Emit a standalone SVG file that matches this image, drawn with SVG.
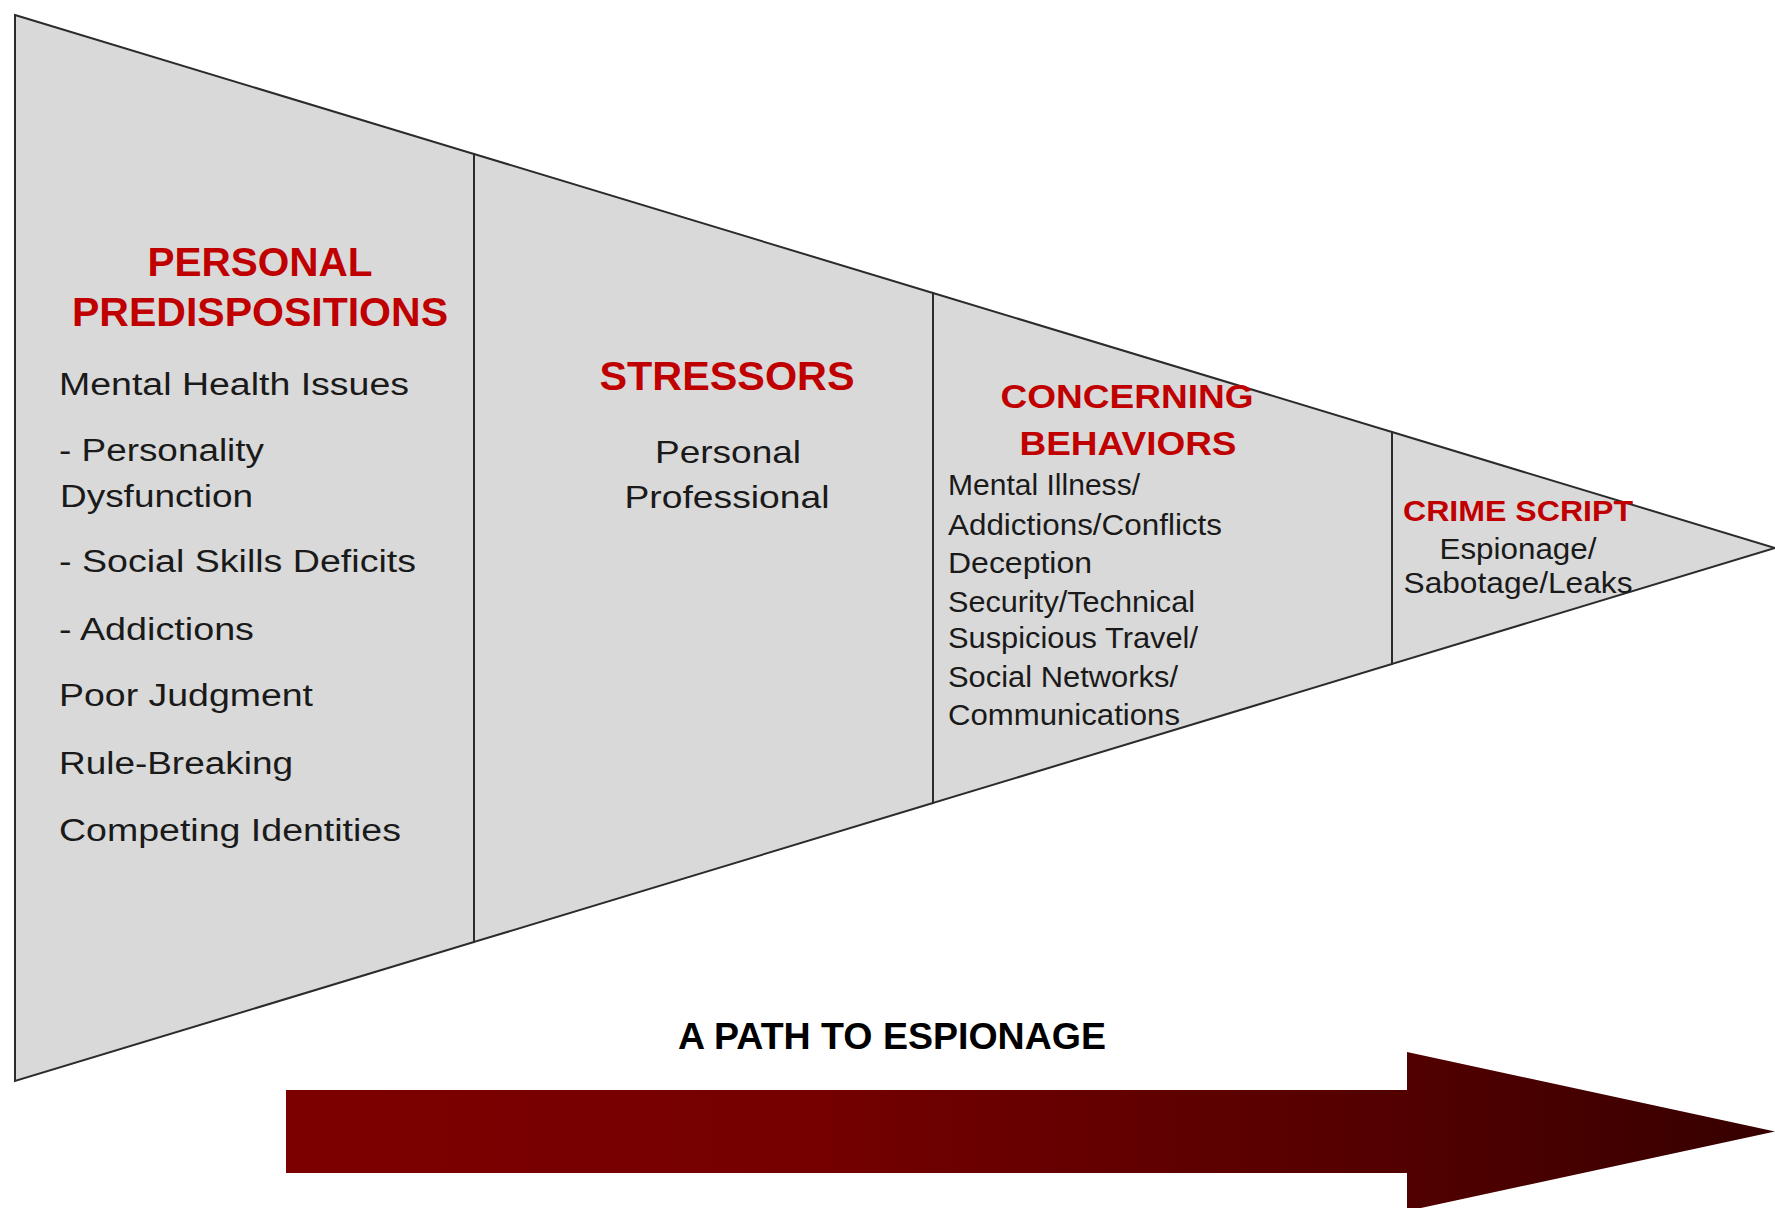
<svg xmlns="http://www.w3.org/2000/svg" width="1775" height="1208" viewBox="0 0 1775 1208">
<style>
.sec{fill:#d9d9d9;stroke:#2b2b2b;stroke-width:2;stroke-linejoin:miter}
.h{font-family:"Liberation Sans",Arial,sans-serif;font-weight:bold;fill:#c00000}
.b{font-family:"Liberation Sans",Arial,sans-serif;fill:#1a1a1a}
.t{font-family:"Liberation Sans",Arial,sans-serif;font-weight:bold;fill:#000}
</style>
<defs>
<linearGradient id="arrowGrad" gradientUnits="userSpaceOnUse" x1="286" y1="0" x2="1775" y2="0">
<stop offset="0" stop-color="#7d0000"/>
<stop offset="0.35" stop-color="#750000"/>
<stop offset="0.75" stop-color="#520000"/>
<stop offset="1" stop-color="#360000"/>
</linearGradient>
</defs>
<rect width="1775" height="1208" fill="#ffffff"/>
<g id="personal-predispositions">
<polygon class="sec" points="15,15 474,154 474,942 15,1081"/>
<text class="h" font-size="40" x="260" y="276" text-anchor="middle" textLength="225" lengthAdjust="spacingAndGlyphs">PERSONAL</text>
<text class="h" font-size="40" x="260" y="326" text-anchor="middle" textLength="376" lengthAdjust="spacingAndGlyphs">PREDISPOSITIONS</text>
<text class="b" font-size="31" x="59" y="395" textLength="350" lengthAdjust="spacingAndGlyphs">Mental Health Issues</text>
<text class="b" font-size="31" x="59" y="461" textLength="205" lengthAdjust="spacingAndGlyphs">- Personality</text>
<text class="b" font-size="31" x="60" y="507" textLength="193" lengthAdjust="spacingAndGlyphs">Dysfunction</text>
<text class="b" font-size="31" x="59" y="572" textLength="357" lengthAdjust="spacingAndGlyphs">- Social Skills Deficits</text>
<text class="b" font-size="31" x="59" y="640" textLength="195" lengthAdjust="spacingAndGlyphs">- Addictions</text>
<text class="b" font-size="31" x="59" y="706" textLength="254" lengthAdjust="spacingAndGlyphs">Poor Judgment</text>
<text class="b" font-size="31" x="59" y="774" textLength="234" lengthAdjust="spacingAndGlyphs">Rule-Breaking</text>
<text class="b" font-size="31" x="59" y="841" textLength="342" lengthAdjust="spacingAndGlyphs">Competing Identities</text>
</g>
<g id="stressors">
<polygon class="sec" points="474,154 933,293 933,803 474,942"/>
<text class="h" font-size="40" x="727" y="390" text-anchor="middle" textLength="255" lengthAdjust="spacingAndGlyphs">STRESSORS</text>
<text class="b" font-size="32" x="728" y="463" text-anchor="middle" textLength="146" lengthAdjust="spacingAndGlyphs">Personal</text>
<text class="b" font-size="32" x="727" y="508" text-anchor="middle" textLength="205" lengthAdjust="spacingAndGlyphs">Professional</text>
</g>
<g id="concerning-behaviors">
<polygon class="sec" points="933,293 1392,432 1392,664 933,803"/>
<text class="h" font-size="34" x="1127" y="408" text-anchor="middle" textLength="253" lengthAdjust="spacingAndGlyphs">CONCERNING</text>
<text class="h" font-size="34" x="1128" y="455" text-anchor="middle" textLength="217" lengthAdjust="spacingAndGlyphs">BEHAVIORS</text>
<text class="b" font-size="30" x="948" y="495" textLength="192" lengthAdjust="spacingAndGlyphs">Mental Illness/</text>
<text class="b" font-size="30" x="948" y="535" textLength="274" lengthAdjust="spacingAndGlyphs">Addictions/Conflicts</text>
<text class="b" font-size="30" x="948" y="573" textLength="144" lengthAdjust="spacingAndGlyphs">Deception</text>
<text class="b" font-size="30" x="948" y="612" textLength="247" lengthAdjust="spacingAndGlyphs">Security/Technical</text>
<text class="b" font-size="30" x="948" y="648" textLength="250" lengthAdjust="spacingAndGlyphs">Suspicious Travel/</text>
<text class="b" font-size="30" x="948" y="687" textLength="230" lengthAdjust="spacingAndGlyphs">Social Networks/</text>
<text class="b" font-size="30" x="948" y="725" textLength="232" lengthAdjust="spacingAndGlyphs">Communications</text>
</g>
<g id="crime-script">
<polygon class="sec" points="1392,432 1775,548 1392,664"/>
<text class="h" font-size="29" x="1518" y="521" text-anchor="middle" textLength="230" lengthAdjust="spacingAndGlyphs">CRIME SCRIPT</text>
<text class="b" font-size="29" x="1518" y="559" text-anchor="middle" textLength="157" lengthAdjust="spacingAndGlyphs">Espionage/</text>
<text class="b" font-size="29" x="1518" y="593" text-anchor="middle" textLength="229" lengthAdjust="spacingAndGlyphs">Sabotage/Leaks</text>
</g>
<g id="connectors">
<g id="path-arrow">
<polygon points="286,1090 1407,1090 1407,1052 1775,1131.5 1407,1211 1407,1173 286,1173" fill="url(#arrowGrad)"/>
<text class="t" font-size="36" x="892" y="1049" text-anchor="middle" textLength="428" lengthAdjust="spacingAndGlyphs">A PATH TO ESPIONAGE</text>
</g>
</g>
</svg>
